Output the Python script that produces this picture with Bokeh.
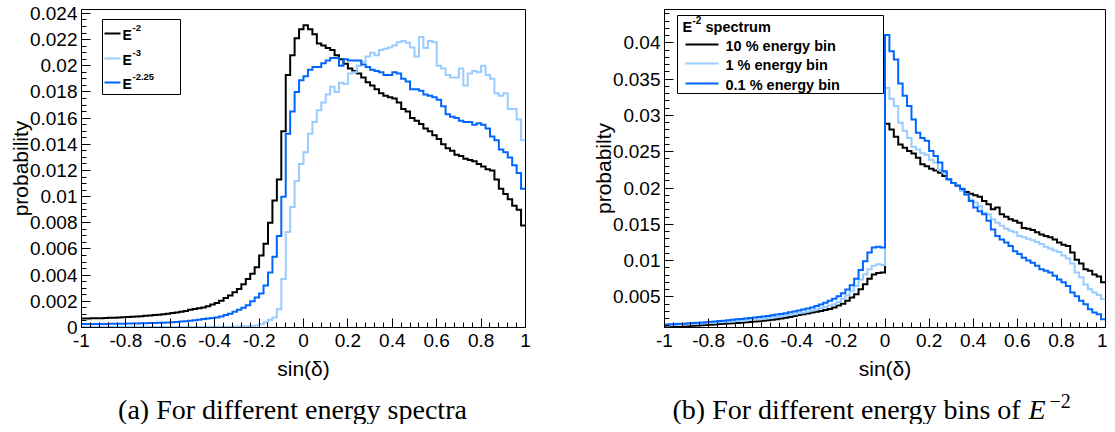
import numpy as np
from bokeh.plotting import figure
from bokeh.models import Range1d, FixedTicker, Label, BoxAnnotation
from bokeh.layouts import row, column
from bokeh.embed import file_html
from bokeh.resources import INLINE

# ---------------- data: probability per sin(delta) bin, in units of 1e-3 ----------------
bin_edges = np.linspace(-1.0, 1.0, 101)  # 100 bins

spec_e2 = [0.69, 0.69, 0.70, 0.70, 0.71, 0.72, 0.74, 0.75, 0.76, 0.78,
           0.80, 0.82, 0.84, 0.86, 0.89, 0.92, 0.95, 0.98, 1.02, 1.06,
           1.10, 1.15, 1.20, 1.27, 1.35, 1.42, 1.48, 1.53, 1.62, 1.75,
           1.88, 2.05, 2.25, 2.45, 2.70, 2.95, 3.30, 3.70, 4.10, 4.60,
           5.50, 6.40, 8.00, 9.70, 11.30, 15.00, 19.30, 20.80, 22.10, 22.80,
           23.10, 22.80, 22.40, 21.70, 21.55, 21.35, 21.20, 20.80, 20.50, 20.15,
           19.80, 19.60, 19.40, 19.10, 18.75, 18.50, 18.20, 17.90, 17.70, 17.60,
           17.50, 17.20, 16.70, 16.50, 16.00, 15.80, 15.55, 15.20, 15.00, 14.70,
           14.40, 14.00, 13.70, 13.50, 13.20, 13.10, 12.90, 12.80, 12.70, 12.50,
           12.30, 12.10, 12.00, 11.30, 10.60, 10.20, 9.80, 9.30, 9.00, 7.80]

spec_e3 = [0.05, 0.05, 0.05, 0.05, 0.05, 0.05, 0.05, 0.05, 0.05, 0.05,
           0.05, 0.05, 0.05, 0.05, 0.05, 0.04, 0.04, 0.04, 0.04, 0.04,
           0.04, 0.04, 0.04, 0.04, 0.04, 0.04, 0.04, 0.04, 0.04, 0.05,
           0.05, 0.05, 0.06, 0.06, 0.07, 0.08, 0.09, 0.10, 0.12, 0.16,
           0.25, 0.40, 0.60, 0.77, 1.40, 3.70, 7.30, 9.20, 11.20, 12.50,
           13.40, 14.80, 15.70, 16.60, 17.20, 17.80, 18.40, 18.00, 18.70, 18.60,
           19.40, 19.50, 20.00, 20.30, 20.70, 21.00, 20.80, 21.20, 21.30, 21.40,
           21.55, 21.80, 21.90, 21.75, 21.40, 20.70, 22.20, 21.35, 21.90, 21.80,
           20.00, 19.80, 19.30, 19.10, 19.10, 19.80, 18.50, 19.40, 19.60, 19.50,
           20.00, 19.30, 19.00, 17.90, 17.70, 17.90, 16.70, 16.70, 15.90, 14.30]

spec_e225 = [0.26, 0.26, 0.26, 0.27, 0.27, 0.27, 0.28, 0.28, 0.29, 0.29,
             0.30, 0.31, 0.31, 0.32, 0.33, 0.34, 0.35, 0.36, 0.37, 0.38,
             0.40, 0.42, 0.45, 0.48, 0.52, 0.56, 0.60, 0.64, 0.68, 0.72,
             0.77, 0.85, 0.95, 1.05, 1.20, 1.35, 1.50, 1.70, 2.00, 2.30,
             2.60, 3.20, 4.20, 5.40, 7.00, 10.00, 14.80, 16.50, 18.00, 18.90,
             19.20, 19.70, 19.90, 19.90, 20.20, 20.40, 20.60, 20.60, 20.00, 20.50,
             20.40, 20.40, 20.40, 20.10, 19.90, 19.70, 19.60, 19.50, 19.30, 19.30,
             19.50, 19.40, 19.00, 18.80, 18.20, 18.20, 18.10, 17.80, 17.70, 17.60,
             17.40, 16.90, 16.30, 16.10, 16.00, 15.80, 15.70, 15.70, 15.50, 15.60,
             15.50, 15.20, 14.60, 14.30, 13.60, 13.40, 13.00, 12.40, 11.80, 10.60]

ebin_10 = [0.85, 0.87, 0.89, 0.92, 0.95, 0.98, 1.01, 1.05, 1.09, 1.13,
           1.17, 1.21, 1.25, 1.29, 1.33, 1.37, 1.41, 1.45, 1.49, 1.54,
           1.59, 1.65, 1.71, 1.78, 1.85, 1.93, 2.02, 2.12, 2.24, 2.38,
           2.50, 2.60, 2.72, 2.84, 2.95, 3.07, 3.20, 3.32, 3.55, 3.80,
           4.05, 4.45, 4.90, 5.37, 6.05, 6.74, 7.50, 8.10, 8.30, 8.35,
           28.85, 28.07, 27.06, 26.00, 25.55, 25.10, 24.77, 24.17, 23.26, 23.00,
           22.66, 22.40, 22.10, 21.65, 21.20, 20.70, 20.30, 19.80, 19.45, 19.20,
           19.00, 18.80, 18.20, 17.75, 17.06, 17.30, 16.40, 16.05, 15.70, 15.50,
           15.20, 14.50, 14.40, 14.20, 13.90, 13.60, 13.40, 13.20, 12.90, 12.50,
           12.20, 12.00, 11.10, 10.10, 9.60, 8.80, 8.60, 8.10, 7.80, 7.00]

ebin_1 = [1.05, 1.08, 1.11, 1.14, 1.17, 1.21, 1.25, 1.29, 1.33, 1.37,
          1.41, 1.45, 1.49, 1.53, 1.57, 1.61, 1.66, 1.71, 1.76, 1.81,
          1.87, 1.93, 2.00, 2.07, 2.15, 2.23, 2.32, 2.42, 2.52, 2.62,
          2.73, 2.85, 2.98, 3.12, 3.28, 3.45, 3.60, 3.80, 4.00, 4.30,
          4.70, 5.20, 5.80, 6.50, 7.40, 8.10, 8.80, 9.30, 9.50, 9.40,
          33.80, 32.30, 31.30, 29.00, 27.90, 26.90, 25.70, 25.30, 24.80, 24.60,
          23.90, 23.50, 22.50, 22.10, 21.20, 20.70, 20.30, 19.60, 19.10, 18.40,
          18.00, 17.50, 16.60, 16.40, 15.70, 15.20, 14.80, 14.40, 14.10, 13.90,
          13.40, 13.20, 13.00, 12.80, 12.55, 12.30, 11.90, 11.65, 11.40, 11.20,
          10.70, 10.30, 9.60, 8.35, 7.70, 6.70, 6.05, 5.60, 5.25, 4.70]

ebin_01 = [1.20, 1.22, 1.25, 1.28, 1.31, 1.35, 1.39, 1.43, 1.47, 1.52,
           1.57, 1.62, 1.67, 1.72, 1.78, 1.84, 1.90, 1.96, 2.02, 2.08,
           2.15, 2.22, 2.30, 2.38, 2.47, 2.56, 2.65, 2.76, 2.88, 3.00,
           3.12, 3.25, 3.40, 3.55, 3.75, 3.95, 4.20, 4.45, 4.75, 5.10,
           5.50, 6.00, 6.60, 7.50, 8.70, 9.90, 11.10, 11.80, 11.90, 11.80,
           41.10, 38.85, 37.70, 34.40, 32.70, 31.30, 29.45, 27.60, 26.90, 26.50,
           25.10, 24.40, 23.50, 22.30, 21.20, 20.70, 20.30, 19.90, 19.10, 18.20,
           17.30, 16.80, 16.40, 15.50, 14.30, 13.40, 12.90, 12.50, 12.00, 11.30,
           10.90, 10.40, 10.00, 9.70, 9.30, 8.80, 8.60, 8.35, 7.90, 7.40,
           7.00, 6.50, 5.60, 5.10, 4.45, 4.00, 3.30, 2.85, 2.60, 1.90]

UNIT = 1e-3

x_ticks = [-1.0, -0.8, -0.6, -0.4, -0.2, 0.0, 0.2, 0.4, 0.6, 0.8, 1.0]
x_labels = ["-1", "-0.8", "-0.6", "-0.4", "-0.2", "0", "0.2", "0.4", "0.6", "0.8", "1"]
ya_ticks = [0.0, 0.002, 0.004, 0.006, 0.008, 0.01, 0.012, 0.014, 0.016, 0.018, 0.02, 0.022, 0.024]
ya_labels = ["0", "0.002", "0.004", "0.006", "0.008", "0.01", "0.012", "0.014", "0.016",
             "0.018", "0.02", "0.022", "0.024"]
yb_ticks = [0.005, 0.01, 0.015, 0.02, 0.025, 0.03, 0.035, 0.04]
yb_labels = ["0.005", "0.01", "0.015", "0.02", "0.025", "0.03", "0.035", "0.04"]

legend_a = [("E", "-2"), ("E", "-3"), ("E", "-2.25")]
legend_b_title = ("E", "-2", "spectrum")
legend_b = ["10 % energy bin", "1 % energy bin", "0.1 % energy bin"]
caption_a = "(a) For different energy spectra"
caption_b = ("(b) For different energy bins of", "E", "\u22122")

BLACK = "#000000"
LIGHT = "#99ccff"
BLUE = "#0066ff"

YA_RANGE = (0.0, 0.0243)
YB_RANGE = (0.00078, 0.0446)

SANS = "Liberation Sans"
SERIF = "Liberation Serif"

MAIN_H = 385
CAP_H = 39
W_A = 560
W_B = 547


def minor_list(start, stop, step, majors, nd):
    n = int(round((stop - start) / step))
    vals = [round(start + i * step, nd) + 0.0 for i in range(n + 1)]
    return [v for v in vals if all(abs(v - m) > step / 10 for m in majors)]


def frame_map(left, right, top, bottom, xr, yr):
    def fx(px):
        return xr[0] + (px - left) / (right - left) * (xr[1] - xr[0])

    def fy(py):
        return yr[0] + (bottom - py) / (bottom - top) * (yr[1] - yr[0])
    return fx, fy


def make_panel(width, bl, br, yr, ylabel, yticks, ylabels, yminor):
    p = figure(width=width, height=MAIN_H, x_range=Range1d(-1, 1), y_range=Range1d(*yr),
               output_backend="svg", toolbar_location=None,
               min_border_left=bl, min_border_right=br, min_border_top=9,
               min_border_bottom=MAIN_H - 327)
    p.xgrid.visible = False
    p.ygrid.visible = False
    p.outline_line_color = "black"
    p.outline_line_alpha = 1.0
    p.outline_line_width = 1
    p.background_fill_color = "white"
    p.border_fill_color = "white"
    for ax in (p.xaxis[0], p.yaxis[0]):
        ax.axis_line_color = "black"
        ax.major_tick_in = 9
        ax.major_tick_out = 0
        ax.minor_tick_in = 5
        ax.minor_tick_out = 0
        ax.major_tick_line_color = "black"
        ax.minor_tick_line_color = "black"
        ax.major_label_text_font = SANS
        ax.major_label_text_font_size = "19px"
        ax.major_label_text_color = "black"
        ax.axis_label_text_font = SANS
        ax.axis_label_text_font_size = "21px"
        ax.axis_label_text_font_style = "normal"
        ax.axis_label_text_color = "black"
    p.xaxis.ticker = FixedTicker(ticks=x_ticks, minor_ticks=minor_list(-1.0, 1.0, 0.04, x_ticks, 2))
    p.xaxis.major_label_overrides = dict(zip(x_ticks, x_labels))
    p.xaxis.axis_label = "sin(δ)"
    p.xaxis.major_label_standoff = 6
    p.xaxis.axis_label_standoff = 7
    p.yaxis.ticker = FixedTicker(ticks=yticks, minor_ticks=yminor)
    p.yaxis.major_label_overrides = dict(zip(yticks, ylabels))
    p.yaxis.axis_label = ylabel
    p.yaxis.major_label_standoff = 4
    p.yaxis.axis_label_standoff = -5
    return p


def add_hist(p, vals, color):
    ys = list(np.array(vals) * UNIT)
    ys = ys + [ys[-1]]
    p.step(x=list(bin_edges), y=ys, mode="after", line_color=color, line_width=2, line_join="miter")


def add_text(p, x, y, text, size, style="bold", align="left", font=SANS):
    p.add_layout(Label(x=x, y=y, text=text, text_font=font, text_font_size=size,
                       text_font_style=style, text_color="black", text_align=align,
                       text_baseline="middle"))


def add_box(p, fx, fy, l, r, t, b, fill, line):
    p.add_layout(BoxAnnotation(left=fx(l), right=fx(r), top=fy(t), bottom=fy(b),
                               fill_color=fill, fill_alpha=1.0,
                               line_color=line, line_alpha=1.0 if line else 0.0,
                               line_width=1, line_dash="solid"))


# ---------------- panel (a) ----------------
pa = make_panel(W_A, 81, W_A - 525, YA_RANGE, "probability", ya_ticks, ya_labels,
                minor_list(0.0, 0.024, 0.0005, ya_ticks, 4))
add_hist(pa, spec_e2, BLACK)
add_hist(pa, spec_e3, LIGHT)
add_hist(pa, spec_e225, BLUE)
fxa, fya = frame_map(81, 525, 9, 327, (-1, 1), YA_RANGE)
add_box(pa, fxa, fya, 102, 180, 19, 94, "white", "black")
for (base, sup), yrow, col in zip(legend_a, [33, 58, 82], [BLACK, LIGHT, BLUE]):
    add_box(pa, fxa, fya, 104, 120, yrow - 1, yrow + 1, col, None)
    add_text(pa, fxa(122), fya(yrow + 1), base, "14px")
    add_text(pa, fxa(132), fya(yrow - 6), sup, "9.5px")

# ---------------- panel (b) ----------------
XB0 = W_A
pb = make_panel(W_B, 664 - XB0, XB0 + W_B - 1105, YB_RANGE, "probabilty", yb_ticks, yb_labels,
                minor_list(0.001, 0.044, 0.001, yb_ticks, 3))
add_hist(pb, ebin_10, BLACK)
add_hist(pb, ebin_1, LIGHT)
add_hist(pb, ebin_01, BLUE)
fxb, fyb = frame_map(664, 1105, 9, 327, (-1, 1), YB_RANGE)
add_box(pb, fxb, fyb, 677, 883, 15, 93, "white", "black")
add_text(pb, fxb(682), fyb(26), legend_b_title[0], "14.5px")
add_text(pb, fxb(692), fyb(19), legend_b_title[1], "10px")
add_text(pb, fxb(705), fyb(26), legend_b_title[2], "14.5px")
for lab, yrow, col in zip(legend_b, [44, 63, 83], [BLACK, LIGHT, BLUE]):
    add_box(pb, fxb, fyb, 685, 718, yrow - 1, yrow + 1, col, None)
    add_text(pb, fxb(725), fyb(yrow + 1), lab, "14.5px")

# ---------------- captions strip ----------------
cap = figure(width=W_A + W_B, height=CAP_H, x_range=Range1d(0, W_A + W_B),
             y_range=Range1d(MAIN_H + CAP_H, MAIN_H), output_backend="svg", toolbar_location=None,
             x_axis_location=None, y_axis_location=None,
             min_border_left=0, min_border_right=0, min_border_top=0, min_border_bottom=0)
cap.xgrid.visible = False
cap.ygrid.visible = False
cap.outline_line_color = None
cap.background_fill_color = "white"
cap.border_fill_color = "white"
add_text(cap, 292, 409, caption_a, "28px", style="normal", align="center", font=SERIF)
add_text(cap, 672, 409, caption_b[0], "28px", style="normal", align="left", font=SERIF)
add_text(cap, 1028, 409, caption_b[1], "28px", style="italic", align="left", font=SERIF)
add_text(cap, 1049, 400, caption_b[2], "20px", style="normal", align="left", font=SERIF)

layout = column(row(pa, pb), cap)
open("out.html", "w").write(file_html(layout, INLINE))
